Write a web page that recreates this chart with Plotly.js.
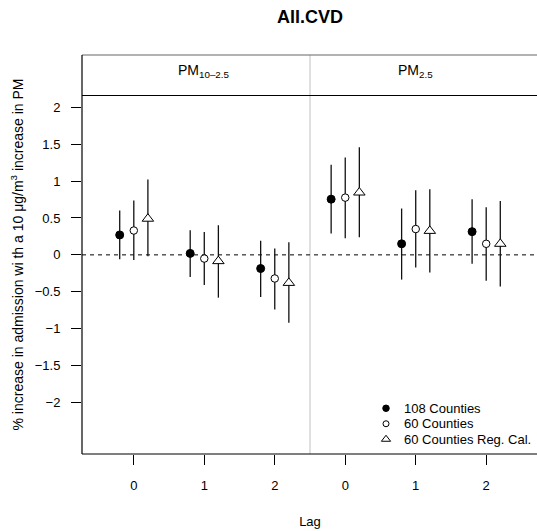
<!DOCTYPE html>
<html>
<head>
<meta charset="utf-8">
<script src="https://cdn.plot.ly/plotly-3.0.1.min.js"></script>
<style>
html,body{margin:0;padding:0;overflow:hidden;background:#fff;}
#chart{width:540px;height:531px;}
</style>
</head>
<body>
<div id="chart"></div>
<script>
// ---- data ----
var panels = ["PM<sub>10\u20132.5</sub>", "PM<sub>2.5</sub>"];
var lags = ["0", "1", "2"];
var seriesNames = ["108 Counties", "60 Counties", "60 Counties Reg. Cal."];

// estimates and 95% intervals, order: PM10-2.5 lag0,1,2 then PM2.5 lag0,1,2
var est108 = [0.27, 0.02, -0.185, 0.755, 0.15, 0.315];
var lo108  = [-0.06, -0.30, -0.57, 0.29, -0.335, -0.12];
var hi108  = [0.60, 0.335, 0.19, 1.22, 0.63, 0.755];

var est60 = [0.33, -0.05, -0.32, 0.776, 0.35, 0.15];
var lo60  = [-0.07, -0.41, -0.74, 0.226, -0.17, -0.35];
var hi60  = [0.736, 0.31, 0.085, 1.32, 0.877, 0.646];

var estRC = [0.49, -0.085, -0.38, 0.845, 0.325, 0.15];
var loRC  = [-0.02, -0.58, -0.92, 0.24, -0.24, -0.43];
var hiRC  = [1.02, 0.40, 0.17, 1.46, 0.89, 0.73];

var yTicks = [-2, -1.5, -1, -0.5, 0, 0.5, 1, 1.5, 2];

// ---- styles ----
var FONT = "Liberation Sans, Arial, Helvetica, sans-serif";
var dodge = [-0.2, 0, 0.2];
var markerStyles = [
  {symbol: "circle", size: 8, color: "#000", line: {color: "#000", width: 1}},
  {symbol: "circle", size: 7.5, color: "#fff", line: {color: "#000", width: 1}},
  {symbol: "triangle-up", size: 10, color: "#fff", line: {color: "#000", width: 1}}
];
var legendMarkerStyles = [
  {symbol: "circle", size: 6.5, color: "#000", line: {color: "#000", width: 1}},
  {symbol: "circle", size: 6, color: "#fff", line: {color: "#000", width: 1}},
  {symbol: "triangle-up", size: 8, color: "#fff", line: {color: "#000", width: 1}}
];

var ests = [est108, est60, estRC];
var los = [lo108, lo60, loRC];
var his = [hi108, hi60, hiRC];

// positions along a continuous axis: panel index * nLags + lag index
var basePos = [];
var tickText = [];
panels.forEach(function (p, pi) {
  lags.forEach(function (l, li) {
    basePos.push(pi * lags.length + li);
    tickText.push(l);
  });
});

var traces = [];
ests.forEach(function (e, s) {
  traces.push({
    type: "scatter",
    mode: "markers",
    x: basePos.map(function (b) { return b + dodge[s]; }),
    y: e,
    marker: markerStyles[s],
    error_y: {
      type: "data", symmetric: false,
      array: his[s].map(function (h, i) { return h - e[i]; }),
      arrayminus: e.map(function (v, i) { return v - los[s][i]; }),
      width: 0, thickness: 1.3, color: "#111"
    },
    showlegend: false, hoverinfo: "skip"
  });
});

// legend drawn on its own small axes
seriesNames.forEach(function (n, s) {
  traces.push({
    type: "scatter", mode: "markers",
    x: [0.5], y: [n], xaxis: "x2", yaxis: "y2",
    marker: legendMarkerStyles[s],
    showlegend: false, hoverinfo: "skip", cliponaxis: false
  });
});

var W = 540, H = 531;
var mL = 82, mR = 2, mT = 55, mB = 77;
var plotW = W - mL - mR, plotH = H - mT - mB;
var dataTopPx = 95.5;
var dataDomTop = (H - mB - dataTopPx) / plotH;
function px2fx(px) { return (px - mL) / plotW; }
function py2fy(py) { return (H - mB - py) / plotH; }

var annotations = [];
panels.forEach(function (p, pi) {
  annotations.push({
    text: p, xref: "x", yref: "paper",
    x: pi * lags.length + 1, y: py2fy(71.5),
    xanchor: "center", yanchor: "middle", showarrow: false,
    font: {family: FONT, size: 14, color: "#000"}
  });
});
annotations.push({
  text: "% increase in admission wi th a 10 \u03bcg/m<sup>3</sup> increase in PM",
  xref: "paper", yref: "paper", x: 0, y: 0.5, xshift: -65,
  xanchor: "center", yanchor: "middle", textangle: -90, showarrow: false,
  font: {family: FONT, size: 14, color: "#000"}
});
seriesNames.forEach(function (n) {
  annotations.push({
    text: n, xref: "x2", yref: "y2", x: 1, y: n,
    xanchor: "left", yanchor: "middle", showarrow: false,
    font: {family: FONT, size: 13, color: "#000"}
  });
});

var shapes = [
  {type: "line", xref: "x", yref: "paper", x0: 2.5, x1: 2.5, y0: 0, y1: 1,
   line: {color: "#cccccc", width: 1.2}, layer: "below"},
  {type: "line", xref: "paper", yref: "y", x0: 0, x1: 1, y0: 0, y1: 0,
   line: {color: "#000", width: 1, dash: "4px,4px"}, layer: "below"},
  {type: "line", xref: "paper", yref: "paper", x0: 0, x1: 1, y0: dataDomTop, y1: dataDomTop,
   line: {color: "#000", width: 1.2}},
  {type: "line", xref: "paper", yref: "paper", x0: 0, x1: 1, y0: 1, y1: 1,
   line: {color: "#666", width: 1.2}},
  {type: "line", xref: "paper", yref: "paper", x0: 0, x1: 0, y0: 0, y1: 1,
   line: {color: "#000", width: 1.2}},
  {type: "line", xref: "paper", yref: "paper", x0: 0, x1: 1, y0: 0, y1: 0,
   line: {color: "#000", width: 1.2}}
];

var layout = {
  width: W, height: H,
  margin: {l: mL, r: mR, t: mT, b: mB, pad: 0},
  paper_bgcolor: "#fff", plot_bgcolor: "#fff",
  font: {family: FONT, size: 13, color: "#000"},
  title: {
    text: "<b>All.CVD</b>", x: 0.5, xref: "paper", xanchor: "center",
    y: 1 - 17 / H, yref: "container", yanchor: "middle",
    font: {family: FONT, size: 18, color: "#000"}
  },
  xaxis: {
    range: [-0.735, 5.735], tickvals: basePos, ticktext: tickText,
    ticks: "outside", ticklen: 10, tickwidth: 1, tickcolor: "#000",
    showgrid: false, zeroline: false, showline: false,
    tickfont: {family: FONT, size: 13, color: "#000"},
    ticklabelstandoff: 9,
    title: {text: "Lag", standoff: 25, font: {family: FONT, size: 13, color: "#000"}},
    automargin: false, fixedrange: true
  },
  yaxis: {
    domain: [0, dataDomTop], range: [-2.699, 2.16],
    tickvals: yTicks,
    ticks: "outside", ticklen: 10, tickwidth: 1, tickcolor: "#000",
    showgrid: false, zeroline: false, showline: false,
    tickfont: {family: FONT, size: 13, color: "#000"},
    ticklabelstandoff: 8,
    automargin: false, fixedrange: true
  },
  xaxis2: {
    domain: [px2fx(370), px2fx(402)], range: [0, 1], anchor: "y2",
    visible: false, fixedrange: true
  },
  yaxis2: {
    domain: [py2fy(447), py2fy(400.5)], type: "category",
    categoryorder: "array", categoryarray: seriesNames.slice().reverse(),
    range: [-0.5, 2.5], anchor: "x2", visible: false, fixedrange: true
  },
  shapes: shapes,
  annotations: annotations,
  showlegend: false
};

Plotly.newPlot("chart", traces, layout, {displayModeBar: false, staticPlot: true});
</script>
</body>
</html>
